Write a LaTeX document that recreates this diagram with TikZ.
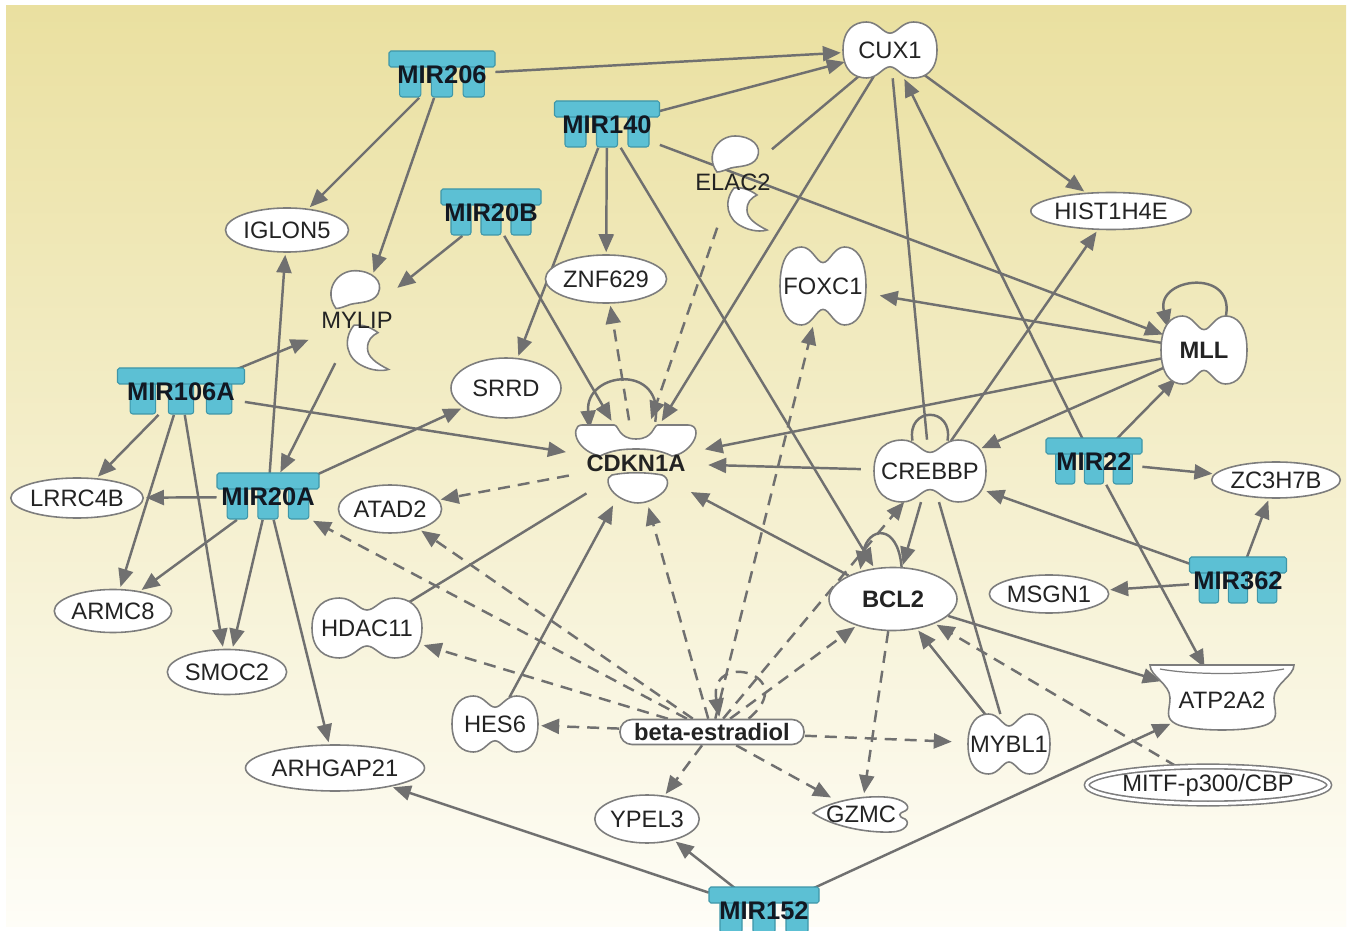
\documentclass[tikz,border=0pt]{standalone}
\usepackage{fontspec}
\setmainfont{Liberation Sans}
\usetikzlibrary{positioning, calc, arrows.meta, shapes.geometric}

\definecolor{edgegray}{RGB}{112,112,112}
\definecolor{outlinegray}{RGB}{125,125,125}
\definecolor{mirblue}{RGB}{92,192,212}
\definecolor{mirline}{RGB}{62,150,168}
\definecolor{labelc}{RGB}{35,35,35}
\definecolor{mirlabel}{RGB}{18,24,34}
\definecolor{bgtop}{RGB}{234,224,160}
\definecolor{bgmid}{RGB}{247,242,212}
\definecolor{bgbot}{RGB}{254,253,247}

\pgfdeclarelayer{bg}
\pgfdeclarelayer{edges}
\pgfsetlayers{bg,edges,main}

\newcommand{\genefont}{\fontsize{13.5}{15}\selectfont}
\newcommand{\mirfont}{\fontsize{14.5}{16}\selectfont\bfseries}

% transcription regulator outline (two lobes)
\newcommand{\peanut}[4]{%
  \filldraw[shapeline, shift={(#1,#2)}, xscale=#3, yscale=#4]
    (-1,0) .. controls (-1,0.75) and (-0.75,1) .. (-0.5,1)
    .. controls (-0.25,1) and (-0.15,0.6) .. (0,0.6)
    .. controls (0.15,0.6) and (0.25,1) .. (0.5,1)
    .. controls (0.75,1) and (1,0.75) .. (1,0)
    .. controls (1,-0.75) and (0.75,-1) .. (0.5,-1)
    .. controls (0.25,-1) and (0.15,-0.6) .. (0,-0.6)
    .. controls (-0.15,-0.6) and (-0.25,-1) .. (-0.5,-1)
    .. controls (-0.75,-1) and (-1,-0.75) .. (-1,0) -- cycle;}
\newcommand{\tfnode}[6]{%
  \peanut{#2}{#3}{#4}{#5}
  \node[genetext, minimum width=#4*0.4mm, minimum height=#5*0.4mm] (#1) at (#2,#3) {#6};}

% microRNA: bar with three tabs
\newcommand{\mirna}[5]{%
  \foreach \tb in {-0.3,0,0.3}
    \filldraw[mirshape, rounded corners=1.5pt] ({(\tb-0.1)*#4+#2}, #3-10) rectangle ({(\tb+0.1)*#4+#2}, #3+22);
  \filldraw[mirshape, rounded corners=1pt] ({#2-#4/2}, #3-24) rectangle ({#2+#4/2}, #3-8);
  \node[mirtext, minimum width=#4*0.2mm] (#1) at (#2,#3) {#5};}

% hook shaped enzyme outline
\newcommand{\hookshape}[3]{%
  \begin{scope}[shift={(#1,#2)}, scale=#3]
    \filldraw[shapeline] (-20,-10) .. controls (-32,-26) and (-20,-46) .. (-2,-46)
      .. controls (14,-46) and (26,-36) .. (20,-24) .. controls (15,-15) and (2,-16) .. (-6,-14)
      .. controls (-12,-12) and (-16,-10) .. (-20,-10) -- cycle;
    \filldraw[shapeline] (-3,6) .. controls (-14,20) and (-10,38) .. (6,45)
      .. controls (14,49) and (24,50) .. (30,48) .. controls (18,42) and (10,36) .. (10,28)
      .. controls (10,20) and (14,16) .. (20,13) .. controls (12,7) and (4,5) .. (-3,6) -- cycle;
  \end{scope}}

\begin{document}
\begin{tikzpicture}[x=0.2mm, y=-0.2mm,
  arr/.style={draw=edgegray, line width=1.4pt, -{Triangle[length=3.6mm, width=3mm]}, shorten >=0.4mm},
  darr/.style={arr, dash pattern=on 2.4mm off 1.6mm},
  plainedge/.style={draw=edgegray, line width=1.4pt},
  shapeline/.style={draw=outlinegray, line width=0.9pt, fill=white},
  mirshape/.style={draw=mirline, line width=0.6pt, fill=mirblue},
  genetext/.style={ellipse, inner sep=0pt, text=labelc, font=\genefont},
  gene/.style={genetext, draw=outlinegray, line width=0.9pt, fill=white},
  mirtext/.style={rectangle, inner sep=0pt, minimum height=9mm, text=mirlabel, font=\mirfont},
  pill/.style={rectangle, rounded corners=2.4mm, draw=outlinegray, line width=0.9pt, fill=white,
    minimum width=36.8mm, minimum height=5mm, inner sep=0pt, text=labelc, font=\genefont\bfseries}]

\useasboundingbox (0,0) rectangle (1352,931);
\begin{pgfonlayer}{bg}
  \fill[white] (0,0) rectangle (1352,931);
  \shade[top color=bgtop, middle color=bgmid, bottom color=bgbot] (6,6) rectangle (1346,926);
\end{pgfonlayer}

% microRNAs
\mirna{mir206}{442}{75}{106}{MIR206}
\mirna{mir140}{607}{125}{105}{MIR140}
\mirna{mir20b}{491}{213}{100}{MIR20B}
\mirna{mir106a}{181}{392}{127}{MIR106A}
\mirna{mir20a}{268}{497}{102}{MIR20A}
\mirna{mir22}{1094}{462}{96}{MIR22}
\mirna{mir362}{1238}{581}{97}{MIR362}
\mirna{mir152}{764}{911}{110}{MIR152}

% transcription regulators
\tfnode{cux1}{890}{50}{47}{28}{CUX1}
\tfnode{foxc1}{823}{286}{43}{39}{FOXC1}
\tfnode{mll}{1204}{350}{43}{34}{\bfseries MLL}
\tfnode{crebbp}{930}{471}{56}{31}{CREBBP}
\tfnode{hdac11}{367}{628}{55}{30}{HDAC11}
\tfnode{hes6}{495}{724}{43}{28}{HES6}
\tfnode{mybl1}{1009}{744}{41}{30}{MYBL1}

% other genes
\node[gene, minimum width=28.2mm, minimum height=7.4mm] (hist) at (1111,211) {HIST1H4E};
\node[gene, minimum width=22.8mm, minimum height=8.8mm] (iglon5) at (287,230) {IGLON5};
\node[gene, minimum width=20.8mm, minimum height=9.6mm] (znf629) at (606,279) {ZNF629};
\node[gene, minimum width=22mm, minimum height=12mm] (srrd) at (506,388) {SRRD};
\node[gene, minimum width=21mm, minimum height=7.2mm] (zc3h7b) at (1276,480) {ZC3H7B};
\node[gene, minimum width=20.8mm, minimum height=8mm] (lrrc4b) at (77,498) {LRRC4B};
\node[gene, minimum width=17.4mm, minimum height=9.6mm] (atad2) at (390,509) {ATAD2};
\node[gene, minimum width=25.6mm, minimum height=12.6mm, font=\genefont\bfseries] (bcl2) at (893,599) {BCL2};
\node[gene, minimum width=21.6mm, minimum height=7.6mm] (msgn1) at (1049,594) {MSGN1};
\node[gene, minimum width=19.2mm, minimum height=8.6mm] (armc8) at (113,611) {ARMC8};
\node[gene, minimum width=19.2mm, minimum height=9mm] (smoc2) at (227,672) {SMOC2};
\node[gene, minimum width=29mm, minimum height=9.2mm] (arhgap21) at (335,768) {ARHGAP21};
\node[gene, double=white, double distance=0.6mm, minimum width=47mm, minimum height=7.4mm] (mitf) at (1208,785) {MITF-p300/CBP};
\node[gene, minimum width=19mm, minimum height=9.6mm] (ypel3) at (647,819) {YPEL3};

% CDKN1A
\filldraw[shapeline] (582,425) -- (614,425) .. controls (619,425) and (618,439) .. (636,439)
  .. controls (654,439) and (653,425) .. (658,425) -- (688,425)
  .. controls (697,425) and (698,434) .. (693,442) .. controls (688,450) and (680,455) .. (672,456)
  .. controls (660,450) and (648,449) .. (636,449) .. controls (624,449) and (612,450) .. (600,456)
  .. controls (590,454) and (582,448) .. (578,441) .. controls (574,434) and (575,425) .. (582,425) -- cycle;
\filldraw[shapeline] (612,475) .. controls (626,472) and (646,472) .. (662,475)
  .. controls (670,478) and (669,488) .. (661,494) .. controls (652,501) and (644,503) .. (638,503)
  .. controls (630,503) and (620,499) .. (614,493) .. controls (607,486) and (606,477) .. (612,475) -- cycle;
\node[genetext, minimum width=25mm, minimum height=17mm, font=\genefont\bfseries] (cdkn1a) at (636,463) {CDKN1A};

% enzymes
\hookshape{357}{319}{1.05}
\node[genetext, minimum width=12mm, minimum height=19mm] (mylip) at (357,320) {MYLIP};
\hookshape{737}{182}{1}
\node[genetext, minimum width=12mm, minimum height=19mm] (elac2) at (733,182) {ELAC2};

% GZMC
\filldraw[shapeline, shift={(861,814)}] (-48,-1) .. controls (-30,-14) and (10,-20) .. (32,-16)
  .. controls (46,-13) and (50,-6) .. (44,-3) .. controls (38,-1) and (36,2) .. (44,5)
  .. controls (50,9) and (44,18) .. (30,18) .. controls (5,19) and (-30,12) .. (-48,-1) -- cycle;
\node[genetext, minimum width=19mm, minimum height=7.4mm] (gzmc) at (861,814) {GZMC};

% ATP2A2
\filldraw[shapeline, shift={(1222,696)}] (-72,-31) -- (72,-31) .. controls (72,-20) and (52,-12) .. (52,2)
  .. controls (52,14) and (58,22) .. (46,28) .. controls (30,36) and (-30,36) .. (-46,28)
  .. controls (-58,22) and (-52,14) .. (-52,2) .. controls (-52,-12) and (-72,-20) .. (-72,-31) -- cycle;
\draw[draw=outlinegray, line width=0.7pt, shift={(1222,696)}] (-62,-27) .. controls (-30,-21) and (30,-21) .. (62,-27);
\node[genetext, minimum width=29mm, minimum height=12.4mm] (atp2a2) at (1222,700) {ATP2A2};

% chemical
\node[pill] (beta) at (712,732) {beta-estradiol};

\begin{pgfonlayer}{edges}
  % microRNA targets
  \draw[arr] (mir206) -- (cux1);
  \draw[arr] (mir206) -- (iglon5);
  \draw[arr] (mir206) -- (mylip);
  \draw[arr] (mir140) -- (cux1);
  \draw[arr] (mir140) -- (srrd);
  \draw[arr] (mir140) -- (znf629);
  \draw[arr] (mir140) -- (bcl2);
  \draw[arr] (mir140) -- (mll);
  \draw[arr] (mir20b) -- (mylip);
  \draw[arr] (mir20b) -- (cdkn1a);
  \draw[arr] (mir106a) -- (mylip);
  \draw[arr] (mir106a) -- (cdkn1a);
  \draw[arr] (mir106a) -- (lrrc4b);
  \draw[arr] (mir106a) -- (armc8);
  \draw[arr] (mir106a) -- (smoc2);
  \draw[arr] (mylip) -- (mir20a);
  \draw[arr] (mir20a) -- (iglon5);
  \draw[arr] (mir20a) -- (srrd);
  \draw[arr] (mir20a) -- (lrrc4b);
  \draw[arr] (mir20a) -- (armc8);
  \draw[arr] (mir20a) -- (smoc2);
  \draw[arr] (mir20a) -- (arhgap21);
  \draw[arr] (mir22) -- (cux1);
  \draw[arr] (mir22) -- (mll);
  \draw[arr] (mir22) -- (zc3h7b);
  \draw[arr] (mir22) -- (atp2a2);
  \draw[arr] (mir362) -- (crebbp);
  \draw[arr] (mir362) -- (zc3h7b);
  \draw[arr] (mir362) -- (msgn1);
  \draw[arr] (mir152) -- (arhgap21);
  \draw[arr] (mir152) -- (ypel3);
  \draw[arr] (mir152) -- (atp2a2);
  % gene to gene
  \draw[arr] (cux1) -- (cdkn1a);
  \draw[arr] (cux1) -- (hist);
  \draw[plainedge] (elac2) -- (cux1);
  \draw[plainedge] (cux1) -- (crebbp);
  \draw[arr] (crebbp) -- (hist);
  \draw[arr] (mll) -- (foxc1);
  \draw[arr] (mll) -- (cdkn1a);
  \draw[arr] (mll) -- (crebbp);
  \draw[arr] (crebbp) -- (cdkn1a);
  \draw[arr] (crebbp) -- (bcl2);
  \draw[plainedge] (crebbp) -- (mybl1);
  \draw[arr] (bcl2) -- (cdkn1a);
  \draw[arr] (bcl2) -- (atp2a2);
  \draw[arr] (mybl1) -- (bcl2);
  \draw[arr] (hes6) -- (cdkn1a);
  \draw[plainedge] (hdac11) -- (cdkn1a);
  % dashed relations
  \draw[darr] (elac2) -- (cdkn1a);
  \draw[darr] (cdkn1a) -- (znf629);
  \draw[darr] (cdkn1a) -- (atad2);
  \draw[darr] (bcl2) -- (gzmc);
  \draw[darr] (mitf) -- (bcl2);
  \draw[darr] (beta) -- (cdkn1a);
  \draw[darr] (beta) -- (foxc1);
  \draw[darr] (beta) -- (crebbp);
  \draw[darr] (beta) -- (bcl2);
  \draw[darr] (beta) -- (mybl1);
  \draw[darr] (beta) -- (gzmc);
  \draw[darr] (beta) -- (ypel3);
  \draw[darr] (beta) -- (hes6);
  \draw[darr] (beta) -- (hdac11);
  \draw[darr] (beta) -- (atad2);
  \draw[darr] (beta) -- (mir20a);
  % self loops
  \draw[arr] (cdkn1a.65) to[out=80, in=95, distance=12mm] (cdkn1a.145);
  \draw[arr] (mll.55) to[out=75, in=105, distance=11mm] (mll.150);
  \draw[plainedge] (crebbp.60) to[out=80, in=100, distance=7mm] (crebbp.120);
  \draw[arr] (bcl2.75) to[out=95, in=80, distance=9mm] (bcl2.140);
  \draw[darr] (beta.20) to[out=40, in=100, distance=14mm] (beta.60);
\end{pgfonlayer}
\end{tikzpicture}
\end{document}
